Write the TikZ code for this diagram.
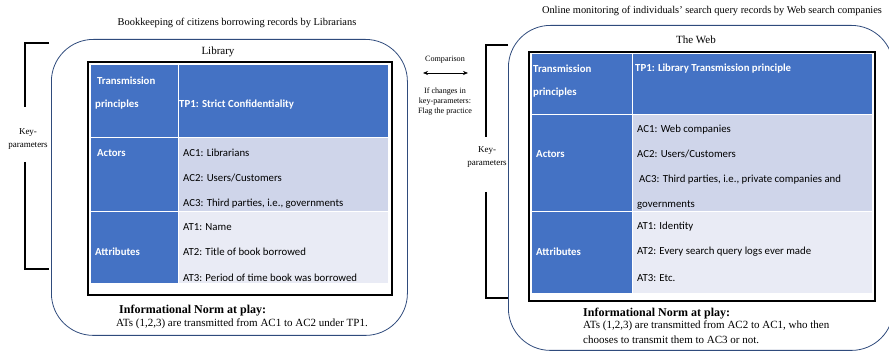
\documentclass[tikz,border=0pt]{standalone}
\usepackage{fontspec}
\setmainfont{Liberation Serif}
\newfontfamily\calibri{Carlito}
\usetikzlibrary{arrows.meta}
\definecolor{hdrblue}{HTML}{4472C4}
\definecolor{rowmid}{HTML}{CFD5EA}
\definecolor{rowlow}{HTML}{E9EBF5}
\definecolor{frameblue}{HTML}{2F4B7C}

\begin{document}
\begin{tikzpicture}[x=1pt, y=-1pt,
    container/.style = {rectangle, draw=frameblue, line width=0.8pt,
rounded corners=42pt, anchor=north west, inner sep=0pt},
    tbl/.style = {rectangle, draw=black, line width=2pt, fill=white,
anchor=north west, inner sep=0pt},
    cell/.style = {rectangle, draw=white, line width=1pt, anchor=north west,
inner sep=0pt},
    hdr/.style = {anchor=west, inner sep=0pt, text=white,
font=\calibri\bfseries\fontsize{10.8}{12}\selectfont},
    val/.style = {anchor=west, inner sep=0pt,
font=\calibri\fontsize{10.8}{12}\selectfont},
    caption/.style = {inner sep=0pt, font=\fontsize{10.4}{12}\selectfont},
    norm/.style = {inner sep=0pt, anchor=west, font=\fontsize{11}{15}\selectfont},
    normhead/.style = {norm, font=\bfseries\fontsize{12}{13}\selectfont},
    small/.style = {inner sep=0pt, align=center, font=\fontsize{8.1}{10}\selectfont},
    bracket/.style = {draw=black, line width=1.6pt}
]
  \useasboundingbox (0,0) rectangle (889,352);
  \clip (0,0) rectangle (889,352);

  % Library side
  \node (ltitle) [caption] at (237,23) {Bookkeeping of citizens borrowing records by Librarians};
  \node (lib) [container, minimum width=356, minimum height=296] at (51,39) {};
  \node (libname) [caption, font=\fontsize{11}{12}\selectfont] at (218,52) {Library};
  \node (ltbl) [tbl, minimum width=304, minimum height=233] at (87,61) {};

  \node (lTPh) [cell, fill=hdrblue, minimum width=88, minimum height=73] at (90,64) {};
  \node (lTPv) [cell, fill=hdrblue, minimum width=210, minimum height=73] at (178,64) {};
  \node (lACh) [cell, fill=hdrblue, minimum width=88, minimum height=74] at (90,137) {};
  \node (lACv) [cell, fill=rowmid, minimum width=210, minimum height=74] at (178,137) {};
  \node (lATh) [cell, fill=hdrblue, minimum width=88, minimum height=72] at (90,211) {};
  \node (lATv) [cell, fill=rowlow, minimum width=210, minimum height=72] at (178,211) {};

  \node (lTP1) [hdr] at (97,81) {Transmission};
  \node (lTP2) [hdr] at (95,105) {principles};
  \node (lTP3) [hdr] at (179,105) {TP1: Strict Confidentiality};
  \node (lAC)  [hdr] at (97,153) {Actors};
  \node (lAC1) [val] at (183,153) {AC1: Librarians};
  \node (lAC2) [val] at (183,178) {AC2: Users/Customers};
  \node (lAC3) [val] at (183,204) {AC3: Third parties, i.e., governments};
  \node (lAT)  [hdr] at (95,252) {Attributes};
  \node (lAT1) [val] at (183,227) {AT1: Name};
  \node (lAT2) [val] at (183,252) {AT2: Title of book borrowed};
  \node (lAT3) [val] at (183,278) {AT3: Period of time book was borrowed};

  \node (lnorm) [normhead] at (119,311) {Informational Norm at play:};
  \node (lrule) [norm] at (116,324) {ATs (1,2,3) are transmitted from AC1 to AC2 under TP1.};

  \node (lkey) [caption, align=center, font=\fontsize{9}{13}\selectfont] at (28,139) {Key-\\parameters};
  \coordinate (lkeyT) at (49,43);
  \coordinate (lkeyB) at (49,269);
  \draw[bracket] (lkeyT) -- (25,43) -- (25,107);
  \draw[bracket] (25,162) -- (25,269) -- (lkeyB);

  % comparison
  \node (cmp) [small] at (445,60) {Comparison};
  \coordinate (cmpL) at (423,73);
  \coordinate (cmpR) at (468,73);
  \draw[{Stealth[length=5pt,width=4pt]}-{Stealth[length=5pt,width=4pt]}, line width=0.6pt] (cmpL) -- (cmpR);
  \node (flag) [small] at (445,102) {If changes in\\key-parameters:\\Flag the practice};

  % Web side
  \node (rtitle) [caption] at (712,11) {Online monitoring of individuals' search query records by Web search companies};
  \node (web) [container, minimum width=385, minimum height=325] at (508,25) {};
  \node (webname) [caption, font=\fontsize{11}{12}\selectfont] at (696,40) {The Web};
  \node (rtbl) [tbl, minimum width=346, minimum height=249] at (528,51) {};

  \node (rTPh) [cell, fill=hdrblue, minimum width=101, minimum height=61] at (531,53) {};
  \node (rTPv) [cell, fill=hdrblue, minimum width=240, minimum height=61] at (632,53) {};
  \node (rACh) [cell, fill=hdrblue, minimum width=101, minimum height=97] at (531,114) {};
  \node (rACv) [cell, fill=rowmid, minimum width=240, minimum height=97] at (632,114) {};
  \node (rATh) [cell, fill=hdrblue, minimum width=101, minimum height=82] at (531,211) {};
  \node (rATv) [cell, fill=rowlow, minimum width=240, minimum height=82] at (632,211) {};

  \node (rTP1) [hdr] at (533,69) {Transmission};
  \node (rTP2) [hdr] at (533,93) {principles};
  \node (rTP3) [hdr] at (635,69) {TP1: Library Transmission principle};
  \node (rAC)  [hdr] at (536,154) {Actors};
  \node (rAC1) [val] at (637,130) {AC1: Web companies};
  \node (rAC2) [val] at (637,154) {AC2: Users/Customers};
  \node (rAC3) [val] at (639,180) {AC3: Third parties, i.e., private companies and};
  \node (rAC4) [val] at (637,205) {governments};
  \node (rAT)  [hdr] at (536,252) {Attributes};
  \node (rAT1) [val] at (637,227) {AT1: Identity};
  \node (rAT2) [val] at (637,252) {AT2: Every search query logs ever made};
  \node (rAT3) [val] at (637,278) {AT3: Etc.};

  \node (rnorm) [normhead] at (583,314) {Informational Norm at play:};
  \node (rrule) [norm, anchor=north west, align=left] at (583,321) {ATs (1,2,3) are transmitted from AC2 to AC1, who then\\chooses to transmit them to AC3 or not.};

  \node (rkey) [caption, align=center, font=\fontsize{9}{13}\selectfont] at (487,157) {Key-\\parameters};
  \coordinate (rkeyT) at (508,45);
  \coordinate (rkeyB) at (508,298);
  \draw[bracket] (rkeyT) -- (486,45) -- (486,137);
  \draw[bracket] (486,192) -- (486,298) -- (rkeyB);

\end{tikzpicture}
\end{document}
